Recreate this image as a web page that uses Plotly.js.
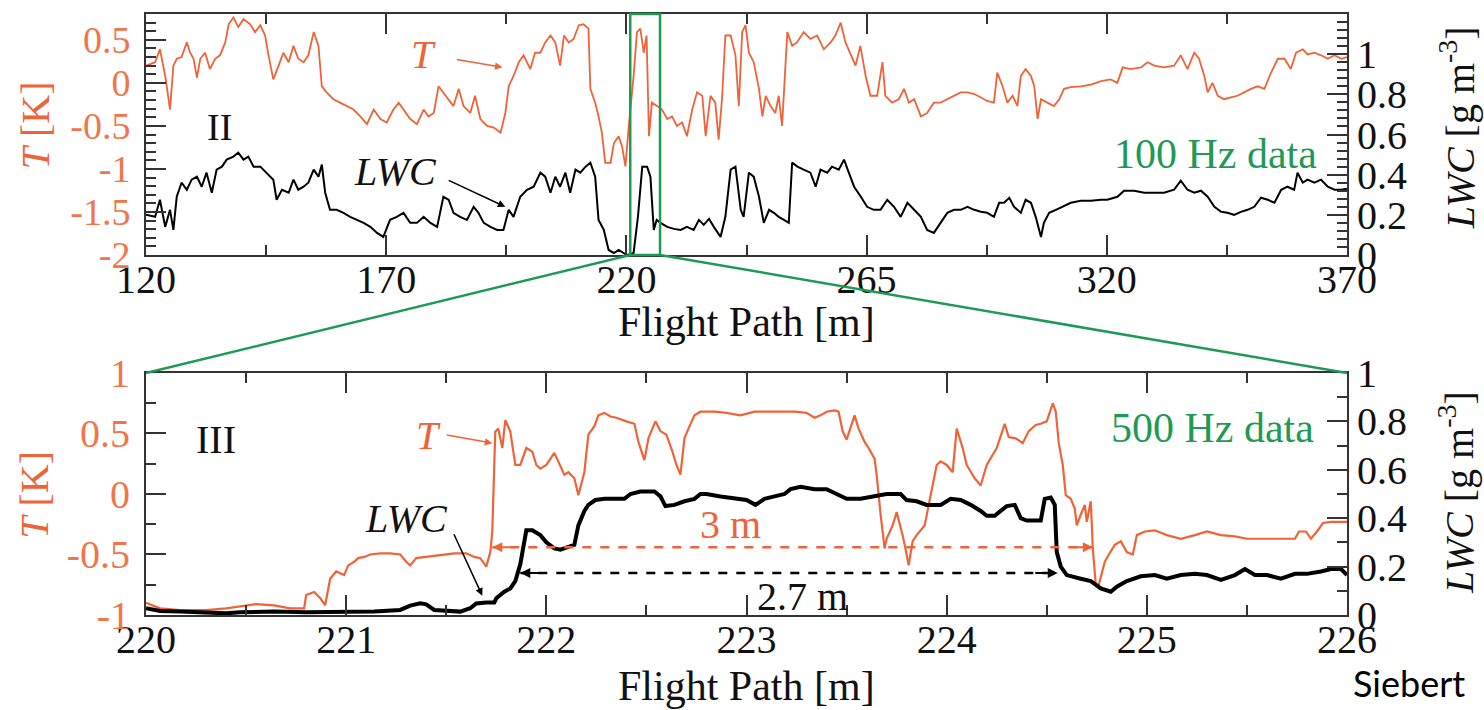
<!DOCTYPE html>
<html><head><meta charset="utf-8">
<script src="https://cdn.plot.ly/plotly-3.0.1.min.js"></script>
<style>html,body{margin:0;padding:0;background:#fff;overflow:hidden}#chart{width:1484px;height:710px}</style>
</head><body><div id="chart"></div>
<script>
// ---------- Panel II (100 Hz data), flight path 120-370 m ----------
const topTx = [120.0,121.9,122.9,124.0,125.0,125.7,126.4,127.4,128.5,129.2,129.9,130.6,131.3,132.3,133.3,134.4,135.4,136.5,137.2,138.2,139.2,140.3,141.7,142.7,143.8,144.8,145.5,146.5,147.6,148.6,149.7,150.7,151.7,152.8,153.8,154.9,155.9,156.6,157.6,159.0,160.4,161.8,163.2,164.6,166.0,167.4,168.8,170.1,171.5,172.6,173.6,175.0,176.4,177.8,178.8,179.9,180.9,181.9,183.0,184.0,185.1,186.1,187.5,188.5,189.6,191.0,192.4,193.8,194.8,195.5,196.5,197.6,198.6,200.0,201.0,
202.1,203.1,204.2,205.2,206.2,207.0,208.0,209.0,210.1,211.1,212.1,212.5,213.5,214.2,214.9,215.6,216.7,217.4,218.4,219.1,219.8,220.5,221.5,222.2,222.9,223.6,224.2,224.7,225.3,226.4,227.4,228.5,229.5,230.5,231.6,232.6,233.7,234.7,235.8,236.5,237.5,238.5,239.2,239.9,240.6,241.7,242.7,243.4,244.1,244.8,245.5,246.5,247.6,248.3,249.0,250.0,251.0,251.7,252.4,253.5,254.5,255.5,256.9,258.3,259.7,261.1,262.5,263.5,264.6,265.6,266.7,267.7,268.7,269.8,270.8,272.2,273.3,273.9,275.3,276.7,277.8,278.8,279.9,281.3,282.6,284.0,
285.4,286.8,288.2,289.6,291.0,292.4,293.8,295.1,296.5,297.2,298.3,299.3,300.4,301.4,302.1,303.1,304.2,304.9,305.6,306.3,307.6,309.0,310.1,311.1,312.5,314.6,316.7,318.8,320.8,322.2,323.3,325.0,327.1,328.5,329.9,331.9,334.0,335.4,336.8,338.2,339.2,340.3,341.0,342.0,343.1,344.4,345.8,347.2,348.6,350.0,351.4,352.8,354.2,355.6,357.0,358.3,359.4,360.8,361.8,363.2,364.6,366.0,367.4,368.8,370.0];
const topT = [0.20,0.24,0.39,0.08,-0.31,0.20,0.28,0.30,0.47,0.35,0.28,0.06,0.28,0.35,0.16,0.28,0.32,0.47,0.68,0.76,0.65,0.74,0.68,0.59,0.67,0.55,0.32,0.04,0.20,0.35,0.24,0.43,0.28,0.24,0.32,0.59,0.43,-0.04,-0.11,-0.19,-0.23,-0.27,-0.31,-0.39,-0.48,-0.31,-0.42,-0.46,-0.31,-0.23,-0.31,-0.42,-0.48,-0.31,-0.39,-0.35,-0.04,-0.11,-0.19,-0.27,-0.07,-0.27,-0.35,-0.15,-0.42,-0.50,-0.52,-0.58,-0.35,-0.04,0.08,0.24,0.32,0.16,0.35,
0.35,0.47,0.55,0.47,0.20,0.55,0.47,0.51,0.67,0.68,0.63,-0.07,-0.23,-0.39,-0.58,-0.93,-0.93,-0.70,-0.62,-0.74,-0.97,-0.50,0.08,0.59,0.63,0.35,0.55,-0.62,-0.23,-0.27,-0.31,-0.42,-0.39,-0.50,-0.46,-0.62,-0.31,-0.11,-0.15,-0.62,-0.15,-0.23,-0.66,-0.19,0.55,0.55,0.32,-0.27,0.59,0.67,0.35,0.24,-0.07,-0.39,-0.15,-0.27,-0.35,-0.15,-0.50,0.59,0.43,0.47,0.59,0.51,0.55,0.39,0.47,0.55,0.70,0.47,0.32,0.20,0.43,0.08,-0.15,-0.15,0.24,-0.15,-0.23,-0.19,-0.07,-0.23,-0.19,-0.39,-0.35,-0.23,
-0.23,-0.19,-0.15,-0.11,-0.11,-0.13,-0.17,-0.21,-0.23,0.12,-0.04,-0.23,-0.15,-0.27,0.08,0.16,0.08,-0.04,-0.42,-0.19,-0.23,-0.27,-0.19,-0.07,-0.05,-0.04,-0.02,0.02,0.04,0.00,0.18,0.16,0.18,0.24,0.20,0.18,0.20,0.32,0.16,0.35,0.28,0.08,-0.11,0.00,-0.15,-0.19,-0.17,-0.15,-0.11,-0.07,-0.04,-0.07,0.12,0.28,0.28,0.16,0.35,0.39,0.33,0.35,0.32,0.28,0.32,0.28,0.30];
const topLx = [120.0,121.9,122.9,124.0,125.0,125.7,126.4,127.4,128.5,129.5,130.6,131.6,132.6,133.7,134.7,135.8,136.8,138.2,139.2,140.3,141.3,142.4,143.8,145.1,146.5,147.2,148.3,149.7,150.7,151.7,152.8,153.8,154.9,155.9,156.6,157.3,158.3,159.7,161.1,162.5,163.9,165.3,166.7,168.1,169.4,170.8,172.2,173.6,175.0,176.4,177.8,179.2,180.6,181.9,183.0,184.0,185.4,186.8,188.2,189.2,190.3,191.7,193.1,194.4,195.5,196.5,197.9,199.3,200.7,
202.1,203.1,204.2,205.2,206.2,207.3,208.3,209.4,210.4,211.5,212.5,213.5,214.2,215.3,216.3,217.4,218.4,219.4,220.1,221.5,222.4,223.3,224.3,225.0,225.7,226.3,227.1,228.5,229.9,231.3,232.6,234.0,235.1,236.1,237.2,238.2,239.6,240.6,241.7,242.7,243.8,244.4,245.5,246.5,247.6,248.6,249.7,250.7,251.7,252.8,253.8,254.5,255.6,256.9,258.3,259.4,260.4,261.8,262.8,264.2,265.3,266.3,267.4,268.8,270.1,271.5,272.9,274.3,275.7,277.1,278.5,279.9,281.3,282.6,284.0,
285.4,286.8,288.2,289.6,291.0,292.4,293.8,295.1,296.5,297.6,298.6,299.7,300.7,302.1,303.1,304.2,305.2,306.3,306.9,308.0,309.4,310.8,312.5,314.6,316.7,318.8,320.1,322.2,323.6,325.7,327.8,329.9,331.9,334.0,335.4,336.8,338.2,339.6,341.0,342.4,343.8,345.1,346.5,347.9,349.3,350.7,352.1,353.5,354.9,356.3,357.6,359.0,359.7,360.8,361.8,363.2,364.6,366.0,367.4,368.8,370.0];
const topLWC = [0.20,0.19,0.275,0.14,0.225,0.125,0.29,0.36,0.325,0.375,0.39,0.34,0.41,0.31,0.425,0.44,0.475,0.49,0.51,0.475,0.49,0.44,0.44,0.41,0.375,0.275,0.325,0.31,0.375,0.325,0.34,0.36,0.425,0.39,0.45,0.31,0.225,0.225,0.21,0.19,0.175,0.16,0.14,0.11,0.09,0.175,0.19,0.21,0.16,0.16,0.19,0.16,0.14,0.29,0.275,0.21,0.19,0.175,0.24,0.21,0.16,0.14,0.125,0.125,0.225,0.19,0.29,0.325,0.34,
0.41,0.39,0.31,0.39,0.34,0.41,0.31,0.425,0.41,0.44,0.46,0.39,0.175,0.125,0.025,0.01,0.025,0.01,0.0,0.01,0.19,0.44,0.44,0.39,0.125,0.175,0.16,0.14,0.13,0.125,0.14,0.125,0.175,0.15,0.18,0.14,0.09,0.19,0.425,0.44,0.225,0.19,0.41,0.39,0.29,0.16,0.225,0.21,0.19,0.175,0.16,0.46,0.44,0.425,0.41,0.34,0.425,0.41,0.44,0.425,0.475,0.41,0.34,0.29,0.24,0.225,0.225,0.275,0.24,0.19,0.26,0.225,0.19,0.125,0.11,
0.16,0.21,0.225,0.225,0.24,0.225,0.215,0.21,0.19,0.26,0.26,0.285,0.24,0.21,0.275,0.26,0.19,0.09,0.16,0.21,0.225,0.24,0.26,0.27,0.27,0.275,0.275,0.29,0.32,0.32,0.31,0.31,0.31,0.325,0.37,0.325,0.31,0.32,0.29,0.24,0.215,0.21,0.20,0.215,0.225,0.24,0.285,0.275,0.26,0.325,0.34,0.325,0.41,0.36,0.375,0.36,0.375,0.34,0.325,0.325,0.33];

// ---------- Panel III (500 Hz data), flight path 220-226 m ----------
const botTx = [220.00,220.07,220.17,220.30,220.40,220.47,220.55,220.64,220.72,220.79,220.80,220.84,220.87,220.895,220.92,220.95,220.99,221.01,221.04,221.06,221.09,221.12,221.17,221.22,221.27,221.30,221.32,221.35,221.40,221.47,221.54,221.60,221.64,221.67,221.70,221.72,221.73,221.745,221.76,221.78,221.795,221.82,221.845,221.87,221.90,221.93,221.95,
221.97,222.00,222.04,222.06,222.09,222.11,222.14,222.16,222.19,222.21,222.24,222.26,222.29,222.32,222.35,222.40,222.44,222.46,222.49,222.51,222.545,222.57,222.60,222.63,222.65,222.67,222.69,222.71,222.74,222.77,222.84,222.90,222.97,223.04,223.10,223.17,223.24,223.30,223.34,223.37,223.40,223.44,223.46,223.48,223.50,223.54,223.56,223.59,223.61,223.64,223.65,223.67,223.69,223.70,223.73,223.75,223.78,223.80,223.81,223.83,223.85,223.89,223.91,223.93,223.95,
223.97,224.00,224.03,224.05,224.08,224.10,224.14,224.17,224.20,224.23,224.25,224.29,224.31,224.345,224.38,224.41,224.445,224.47,224.50,224.53,224.545,224.56,224.58,224.595,224.62,224.64,224.65,224.67,224.69,224.70,224.72,224.73,224.745,224.76,224.79,224.81,224.84,224.87,224.90,224.93,224.95,224.99,225.04,225.10,225.17,225.24,225.30,225.37,225.44,225.50,225.57,225.64,225.70,225.74,225.76,225.795,225.82,225.85,225.88,225.92,225.97,226.00];
const botT = [-0.90,-0.945,-0.96,-0.96,-0.945,-0.93,-0.91,-0.92,-0.945,-0.945,-0.835,-0.81,-0.86,-0.92,-0.70,-0.64,-0.67,-0.59,-0.56,-0.53,-0.52,-0.50,-0.49,-0.49,-0.50,-0.56,-0.59,-0.53,-0.52,-0.50,-0.49,-0.49,-0.52,-0.53,-0.60,-0.48,-0.31,0.515,0.54,0.38,0.61,0.515,0.24,0.24,0.38,0.35,0.24,
0.21,0.24,0.34,0.27,0.16,0.18,0.13,-0.01,0.18,0.49,0.56,0.65,0.67,0.64,0.63,0.60,0.58,0.43,0.28,0.46,0.60,0.52,0.49,0.35,0.24,0.16,0.46,0.54,0.65,0.68,0.68,0.67,0.65,0.68,0.68,0.68,0.68,0.67,0.63,0.65,0.68,0.69,0.68,0.52,0.45,0.65,0.54,0.43,0.38,0.29,0.16,-0.17,-0.45,-0.37,-0.26,-0.15,-0.34,-0.50,-0.59,-0.39,-0.34,-0.26,-0.09,0.07,0.24,
0.27,0.24,0.18,0.54,0.38,0.24,0.13,0.07,0.24,0.32,0.38,0.58,0.47,0.46,0.42,0.52,0.57,0.58,0.60,0.75,0.68,0.42,0.24,-0.01,-0.04,-0.12,-0.26,-0.17,-0.09,-0.23,-0.06,-0.45,-0.75,-0.75,-0.56,-0.50,-0.42,-0.39,-0.48,-0.50,-0.34,-0.31,-0.30,-0.34,-0.37,-0.34,-0.31,-0.34,-0.35,-0.37,-0.37,-0.37,-0.37,-0.37,-0.31,-0.31,-0.37,-0.31,-0.24,-0.23,-0.23,-0.23];
const botLx = [220.00,220.07,220.17,220.30,220.40,220.47,220.64,220.80,220.97,221.14,221.27,221.32,221.37,221.40,221.44,221.50,221.57,221.62,221.65,221.70,221.74,221.75,221.79,221.82,221.845,221.87,221.89,221.90,221.93,221.95,
221.97,222.00,222.04,222.07,222.10,222.14,222.16,222.19,222.21,222.245,222.29,222.34,222.39,222.42,222.47,222.54,222.57,222.595,222.64,222.69,222.74,222.77,222.80,222.87,222.94,223.00,223.045,223.09,223.14,223.19,223.22,223.27,223.34,223.40,223.45,223.50,223.57,223.64,223.70,223.77,223.80,223.85,223.90,223.95,
223.97,224.02,224.07,224.12,224.17,224.20,224.24,224.27,224.30,224.34,224.37,224.40,224.44,224.47,224.49,224.52,224.54,224.55,224.57,224.60,224.67,224.72,224.77,224.82,224.85,224.90,224.97,225.04,225.10,225.17,225.24,225.30,225.37,225.44,225.49,225.54,225.60,225.67,225.74,225.80,225.87,225.92,225.97,226.00];
const botLWC = [0.028,0.017,0.014,0.011,0.007,0.011,0.014,0.011,0.011,0.014,0.021,0.039,0.048,0.044,0.021,0.017,0.014,0.028,0.048,0.052,0.052,0.069,0.096,0.11,0.14,0.21,0.29,0.35,0.35,0.34,
0.33,0.30,0.275,0.27,0.28,0.29,0.37,0.43,0.455,0.475,0.48,0.48,0.48,0.50,0.51,0.51,0.49,0.45,0.455,0.47,0.48,0.50,0.50,0.49,0.48,0.475,0.455,0.48,0.49,0.50,0.52,0.53,0.52,0.52,0.50,0.48,0.48,0.49,0.50,0.50,0.475,0.47,0.455,0.455,
0.455,0.48,0.475,0.455,0.43,0.41,0.41,0.43,0.45,0.455,0.40,0.39,0.39,0.39,0.48,0.485,0.455,0.26,0.20,0.165,0.15,0.14,0.11,0.096,0.117,0.14,0.16,0.165,0.15,0.165,0.17,0.165,0.145,0.165,0.19,0.165,0.165,0.15,0.17,0.17,0.18,0.19,0.19,0.165];

// ---------- tick labels ----------
const topXTicks = [120,170,220,270,320,370];
const topXText  = ['120','170','220','265','320','370'];
const topTTicks = [-2,-1.5,-1,-0.5,0,0.5];
const topTText  = ['-2','-1.5','-1','-0.5','0','0.5'];
const lwcTicks  = [0,0.2,0.4,0.6,0.8,1];
const lwcText   = ['0','0.2','0.4','0.6','0.8','1'];
const botXTicks = [220,221,222,223,224,225,226];
const botXText  = ['220','221','222','223','224','225','226'];
const botTTicks = [-1,-0.5,0,0.5,1];
const botTText  = ['-1','-0.5','0','0.5','1'];

// zoom box and distance markers
const BOX = [220.8, 227.0];
const ARROW3 = {x0:221.73, x1:224.73, y:-0.44};
const ARROW27 = {x0:221.87, x1:224.555, y:-0.653};

const ORANGE='#ef6338', TICKOR='#f0764a', GREEN='#1f9a55', AX='#333', TXT='#111';
const FONT='"Liberation Serif", "Times New Roman", serif';
const topDom=[0.599,1], botDom=[0,0.4027];
const XR1=[120,370];

function base(){return {showline:true,linecolor:AX,linewidth:2,ticks:'inside',tickcolor:AX,tickwidth:2,ticklen:20,
  showgrid:false,zeroline:false,tickfont:{family:FONT,size:40,color:TXT},fixedrange:true};}
function minor(d,t0){return {tickmode:'linear',dtick:d,tick0:t0,ticks:'inside',ticklen:10,tickwidth:2,tickcolor:AX};}

const data=[
 {x:topTx,y:topT,xaxis:'x',yaxis:'y',mode:'lines',line:{color:ORANGE,width:1.8},hoverinfo:'skip'},
 {x:topLx,y:topLWC,xaxis:'x',yaxis:'y2',mode:'lines',line:{color:'#000',width:2},hoverinfo:'skip'},
 {x:botTx,y:botT,xaxis:'x2',yaxis:'y3',mode:'lines',line:{color:ORANGE,width:2.2},hoverinfo:'skip'},
 {x:botLx,y:botLWC,xaxis:'x2',yaxis:'y4',mode:'lines',line:{color:'#000',width:4},hoverinfo:'skip'}
];

const layout={
 width:1484,height:710,margin:{l:146,r:137,t:14,b:95},paper_bgcolor:'#fff',plot_bgcolor:'rgba(0,0,0,0)',showlegend:false,
 xaxis:Object.assign(base(),{domain:[0,1],anchor:'y',range:XR1,tickmode:'array',tickvals:topXTicks,ticktext:topXText,mirror:'ticks',
   minor:minor(25,120),ticklabelstandoff:-12}),
 yaxis:Object.assign(base(),{domain:topDom,anchor:'x',range:[-2,0.8],tickmode:'array',tickvals:topTTicks,ticktext:topTText,
   tickfont:{family:FONT,size:38,color:TICKOR},minor:minor(0.1,-2),ticklabelstandoff:6}),
 yaxis2:Object.assign(base(),{overlaying:'y',side:'right',anchor:'x',range:[0,1.2],tickmode:'array',tickvals:lwcTicks,ticktext:lwcText,
   minor:minor(0.04,0),ticklabelstandoff:0}),
 xaxis2:Object.assign(base(),{domain:[0,1],anchor:'y3',range:[220,226],tickmode:'array',tickvals:botXTicks,ticktext:botXText,mirror:'ticks',
   minor:minor(0.5,220),ticklabelstandoff:-12}),
 yaxis3:Object.assign(base(),{domain:botDom,anchor:'x2',range:[-1,1],tickmode:'array',tickvals:botTTicks,ticktext:botTText,
   tickfont:{family:FONT,size:40,color:TICKOR},minor:minor(0.25,-1),ticklabelstandoff:6}),
 yaxis4:Object.assign(base(),{overlaying:'y3',side:'right',anchor:'x2',range:[0,1],tickmode:'array',tickvals:lwcTicks,ticktext:lwcText,
   minor:minor(0.1,0),ticklabelstandoff:0}),
 shapes:[
  {type:'rect',xref:'x',yref:'paper',x0:BOX[0],x1:BOX[1],y0:topDom[0],y1:topDom[1],line:{color:GREEN,width:2.5}},
  {type:'line',xref:'paper',yref:'paper',x0:(BOX[0]-XR1[0])/(XR1[1]-XR1[0]),y0:topDom[0],x1:0,y1:botDom[1],line:{color:GREEN,width:2.5}},
  {type:'line',xref:'paper',yref:'paper',x0:(BOX[1]-XR1[0])/(XR1[1]-XR1[0]),y0:topDom[0],x1:1,y1:botDom[1],line:{color:GREEN,width:2.5}},
  {type:'line',xref:'x2',yref:'y3',x0:ARROW3.x0,x1:ARROW3.x1,y0:ARROW3.y,y1:ARROW3.y,line:{color:ORANGE,width:2.5,dash:'dash'}},
  {type:'line',xref:'x2',yref:'y3',x0:ARROW27.x0,x1:ARROW27.x1,y0:ARROW27.y,y1:ARROW27.y,line:{color:'#000',width:2.5,dash:'dash'}}
 ],
 annotations:[]
};

const A=layout.annotations;
function txt(t,x,y,xref,yref,size,color,opts){A.push(Object.assign({text:t,x:x,y:y,xref:xref,yref:yref,showarrow:false,
  font:{family:FONT,size:size,color:color},xanchor:'center',yanchor:'middle'},opts||{}));}
function arr(hx,hy,tx,ty,xref,yref,color,w){A.push({text:'',x:hx,y:hy,ax:tx,ay:ty,xref:xref,yref:yref,axref:xref,ayref:yref,
  showarrow:true,arrowhead:2,arrowsize:1,arrowwidth:w||1.5,arrowcolor:color,standoff:0,startstandoff:0});}

// axis titles
txt('<i>T</i> [K]',-0.0924,0.815,'paper','paper',40,ORANGE,{textangle:-90});
txt('<i>T</i> [K]',-0.0924,0.200,'paper','paper',40,ORANGE,{textangle:-90});
txt('<i>LWC</i> [g m<sup>-3</sup>]',1.0916,0.810,'paper','paper',40,TXT,{textangle:-90});
txt('<i>LWC</i> [g m<sup>-3</sup>]',1.0916,0.203,'paper','paper',40,TXT,{textangle:-90});
txt('Flight Path [m]',0.5004,0.4875,'paper','paper',42,TXT);
txt('Flight Path [m]',0.5004,-0.118,'paper','paper',42,TXT);
// panel II labels
txt('II',135.4,-0.51,'x','y',38,TXT);
txt('<i>T</i>',177.7,0.33,'x','y',40,ORANGE);
arr(194.2,0.18,184.4,0.275,'x','y',ORANGE,1.5);
txt('<i>LWC</i>',171.9,-1.03,'x','y',40,TXT);
arr(194.8,-1.44,182.7,-1.125,'x','y','#000',1.5);
txt('100 Hz data',342.7,-0.83,'x','y',42,GREEN);
// panel III labels
txt('III',220.35,0.45,'x2','y3',40,TXT);
txt('<i>T</i>',221.41,0.48,'x2','y3',40,ORANGE);
arr(221.73,0.42,221.495,0.49,'x2','y3',ORANGE,1.5);
txt('<i>LWC</i>',221.30,-0.20,'x2','y3',40,TXT);
arr(221.68,-0.84,221.535,-0.32,'x2','y3','#000',1.5);
txt('500 Hz data',225.33,0.545,'x2','y3',42,GREEN);
txt('3 m',222.92,-0.256,'x2','y3',40,ORANGE);
txt('2.7 m',223.28,-0.85,'x2','y3',40,TXT);
arr(ARROW3.x0,ARROW3.y,ARROW3.x0+0.12,ARROW3.y,'x2','y3',ORANGE,2);
arr(ARROW3.x1,ARROW3.y,ARROW3.x1-0.12,ARROW3.y,'x2','y3',ORANGE,2);
arr(ARROW27.x0,ARROW27.y,ARROW27.x0+0.12,ARROW27.y,'x2','y3','#000',2);
arr(ARROW27.x1,ARROW27.y,ARROW27.x1-0.12,ARROW27.y,'x2','y3','#000',2);
// source
A.push({text:'Siebert',x:1.003,y:-0.1530,xref:'paper',yref:'paper',showarrow:false,xanchor:'left',yanchor:'bottom',
  font:{family:'Lato, "Open Sans", sans-serif',size:36,color:'#000'}});

Plotly.newPlot('chart',data,layout,{staticPlot:true,displayModeBar:false});
</script></body></html>
